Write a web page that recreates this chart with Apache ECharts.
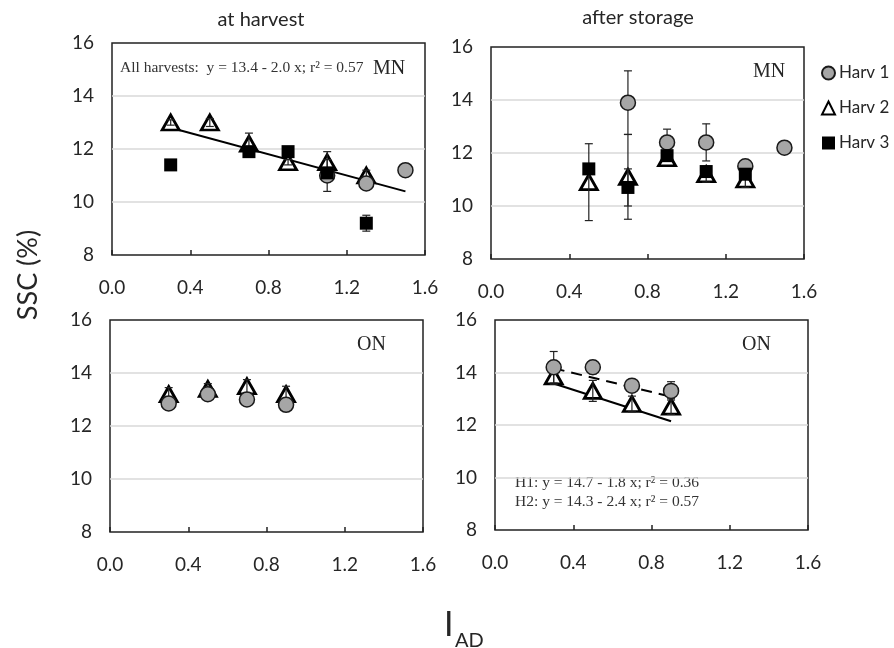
<!DOCTYPE html>
<html>
<head>
<meta charset="utf-8">
<script src="https://cdn.jsdelivr.net/npm/echarts@6/dist/echarts.min.js"></script>
<style>
  html, body { margin: 0; padding: 0; background: #fff; }
  #chart { width: 894px; height: 648px; }
</style>
</head>
<body>
<div id="chart"></div>
<script>
// MN, at harvest  [I_AD, SSC]  + sd
const mnHarvH1 = [[1.1, 11.0], [1.3, 10.7], [1.5, 11.2]];
const mnHarvH1Sd = [0.6, 0.2, 0.1];
const mnHarvH2 = [[0.3, 13.0], [0.5, 13.0], [0.7, 12.2], [0.9, 11.5], [1.1, 11.5], [1.3, 11.0]];
const mnHarvH2Sd = [0.1, 0.15, 0.4, 0.1, 0.4, 0.2];
const mnHarvH3 = [[0.3, 11.4], [0.7, 11.9], [0.9, 11.9], [1.1, 11.1], [1.3, 9.2]];
const mnHarvH3Sd = [0.1, 0.1, 0.1, 0.1, 0.3];
const mnHarvFit = [[0.3, 12.8], [1.5, 10.4]];

// MN, after storage
const mnStorH1 = [[0.7, 13.9], [0.9, 12.4], [1.1, 12.4], [1.3, 11.5], [1.5, 12.2]];
const mnStorH1Sd = [1.2, 0.5, 0.7, 0.1, 0.1];
const mnStorH2 = [[0.5, 10.9], [0.7, 11.1], [0.9, 11.8], [1.1, 11.2], [1.3, 11.0]];
const mnStorH2Sd = [1.45, 1.6, 0.1, 0.3, 0.3];
const mnStorH3 = [[0.5, 11.4], [0.7, 10.7], [0.9, 11.9], [1.1, 11.3], [1.3, 11.2]];
const mnStorH3Sd = [0.1, 0.7, 0.1, 0.1, 0.1];

// ON, at harvest
const onHarvH1 = [[0.3, 12.85], [0.5, 13.2], [0.7, 13.0], [0.9, 12.8]];
const onHarvH1Sd = [0.1, 0.1, 0.1, 0.1];
const onHarvH2 = [[0.3, 13.2], [0.5, 13.4], [0.7, 13.5], [0.9, 13.2]];
const onHarvH2Sd = [0.25, 0.2, 0.25, 0.3];

// ON, after storage
const onStorH1 = [[0.3, 14.2], [0.5, 14.2], [0.7, 13.5], [0.9, 13.3]];
const onStorH1Sd = [0.6, 0.25, 0.1, 0.35];
const onStorH2 = [[0.3, 13.85], [0.5, 13.3], [0.7, 12.8], [0.9, 12.7]];
const onStorH2Sd = [0.3, 0.4, 0.3, 0.3];
const onStorFitH1 = [[0.3, 14.16], [0.9, 13.08]];
const onStorFitH2 = [[0.3, 13.58], [0.9, 12.14]];

const harvNames = ['Harv 1', 'Harv 2', 'Harv 3'];
const panelTitles = ['at harvest', 'after storage'];

const labelFont = 'Lato';
const ink = '#262626';
const noteFont = '15.5px "Liberation Serif"';
const tagFont = '20px "Liberation Serif"';

const chart = echarts.init(document.getElementById('chart'));

// grids: TL, TR, BL, BR
const grids = [
  { left: 112, top: 43, width: 313, height: 212 },
  { left: 491, top: 47, width: 313, height: 212 },
  { left: 110, top: 320, width: 313, height: 212 },
  { left: 495, top: 320, width: 313, height: 210 }
].map(g => Object.assign({ show: true, borderColor: '#222', borderWidth: 1.5, backgroundColor: 'transparent' }, g));

const xAxes = grids.map((g, i) => ({
  type: 'value', gridIndex: i, min: 0, max: 1.6, interval: 0.4,
  axisLine: { show: false },
  axisTick: { show: true, inside: true, length: 5, lineStyle: { color: '#222', width: 1.5 } },
  axisLabel: { margin: 23, fontFamily: labelFont, fontSize: 19, color: ink, formatter: v => v.toFixed(1) },
  splitLine: { show: false }
}));

const yAxes = grids.map((g, i) => ({
  type: 'value', gridIndex: i, min: 8, max: 16, interval: 2,
  axisLine: { show: false },
  axisTick: { show: false },
  axisLabel: { margin: 18, fontFamily: labelFont, fontSize: 19, color: ink },
  splitLine: { show: true, showMinLine: false, showMaxLine: false, lineStyle: { color: '#d9d9d9', width: 1.5 } }
}));

const h1Look = { symbol: 'circle', symbolSize: 15, itemStyle: { color: '#a6a6a6', borderColor: '#1a1a1a', borderWidth: 1.5, opacity: 1 }, z: 4 };
const h2Look = { symbol: 'triangle', symbolSize: [17, 15], itemStyle: { color: '#fff', borderColor: '#000', borderWidth: 2.8, opacity: 1 }, z: 2 };
const h3Look = { symbol: 'rect', symbolSize: 13, itemStyle: { color: '#000', opacity: 1 }, z: 5 };

function dots(idx, name, look, pts) {
  return Object.assign({ type: 'scatter', name: name, xAxisIndex: idx, yAxisIndex: idx, data: pts, silent: true }, look);
}

function errBars(idx, pts, sds) {
  return {
    type: 'custom', xAxisIndex: idx, yAxisIndex: idx, z: 3, silent: true,
    data: pts.map((p, i) => [p[0], p[1], sds[i]]),
    encode: { x: 0, y: 1 },
    renderItem: function (params, api) {
      const x = api.value(0), y = api.value(1), sd = api.value(2);
      const hi = api.coord([x, y + sd]);
      const lo = api.coord([x, y - sd]);
      const w = 4;
      const st = { stroke: '#222', lineWidth: 1.2 };
      return {
        type: 'group', children: [
          { type: 'line', shape: { x1: hi[0], y1: hi[1], x2: lo[0], y2: lo[1] }, style: st },
          { type: 'line', shape: { x1: hi[0] - w, y1: hi[1], x2: hi[0] + w, y2: hi[1] }, style: st },
          { type: 'line', shape: { x1: lo[0] - w, y1: lo[1], x2: lo[0] + w, y2: lo[1] }, style: st }
        ]
      };
    }
  };
}

function fitLine(idx, pts, dashed) {
  return {
    type: 'line', xAxisIndex: idx, yAxisIndex: idx, data: pts, symbol: 'none', z: 1, silent: true,
    lineStyle: { color: '#000', width: 2, type: dashed ? [11, 7] : 'solid' }
  };
}

const series = [
  // TL
  fitLine(0, mnHarvFit, false),
  dots(0, harvNames[1], h2Look, mnHarvH2),
  errBars(0, mnHarvH1, mnHarvH1Sd), errBars(0, mnHarvH2, mnHarvH2Sd), errBars(0, mnHarvH3, mnHarvH3Sd),
  dots(0, harvNames[0], h1Look, mnHarvH1),
  dots(0, harvNames[2], h3Look, mnHarvH3),
  // TR
  dots(1, harvNames[1], h2Look, mnStorH2),
  errBars(1, mnStorH1, mnStorH1Sd), errBars(1, mnStorH2, mnStorH2Sd), errBars(1, mnStorH3, mnStorH3Sd),
  dots(1, harvNames[0], h1Look, mnStorH1),
  dots(1, harvNames[2], h3Look, mnStorH3),
  // BL
  dots(2, harvNames[1], h2Look, onHarvH2),
  errBars(2, onHarvH1, onHarvH1Sd), errBars(2, onHarvH2, onHarvH2Sd),
  dots(2, harvNames[0], h1Look, onHarvH1),
  // BR
  fitLine(3, onStorFitH1, true),
  fitLine(3, onStorFitH2, false),
  dots(3, harvNames[1], h2Look, onStorH2),
  errBars(3, onStorH1, onStorH1Sd), errBars(3, onStorH2, onStorH2Sd),
  dots(3, harvNames[0], h1Look, onStorH1)
];

function txt(x, y, text, font, align, extra, fill) {
  return Object.assign({
    type: 'text', x: x, y: y, silent: true,
    style: { text: text, font: font, fill: fill || ink, align: align || 'left', verticalAlign: 'middle',
             textAlign: align || 'left', textVerticalAlign: 'middle' }
  }, extra || {});
}

const option = {
  animation: false,
  backgroundColor: '#fff',
  grid: grids,
  xAxis: xAxes,
  yAxis: yAxes,
  legend: {
    data: harvNames, orient: 'vertical', left: 821, top: 64,
    itemWidth: 13, itemHeight: 13, itemGap: 17, padding: 0,
    textStyle: { fontFamily: labelFont, fontSize: 17, color: ink, lineHeight: 18, padding: [0, 0, 0, -1] },
    selectedMode: false
  },
  graphic: [
    txt(261, 20, panelTitles[0], '20px Lato', 'center'),
    txt(638, 18, panelTitles[1], '20px Lato', 'center'),
    txt(28, 275, 'SSC (%)', '27px Lato', 'center', { rotation: Math.PI / 2 }),
    txt(444, 625, 'I', '34px Lato', 'left'),
    txt(455, 641, 'AD', '20px Lato', 'left'),
    txt(120, 68, 'All harvests:  y = 13.4 - 2.0 x; r\u00b2 = 0.57', noteFont, 'left', null, '#333'),
    txt(373, 69, 'MN', tagFont, 'left'),
    txt(753, 72, 'MN', tagFont, 'left'),
    txt(357, 345, 'ON', tagFont, 'left'),
    txt(742, 345, 'ON', tagFont, 'left'),
    txt(515, 483, 'H1: y = 14.7 - 1.8 x; r\u00b2 = 0.36', noteFont, 'left', null, '#333'),
    txt(515, 502, 'H2: y = 14.3 - 2.4 x; r\u00b2 = 0.57', noteFont, 'left', null, '#333')
  ],
  series: series
};

chart.setOption(option);
</script>
</body>
</html>
